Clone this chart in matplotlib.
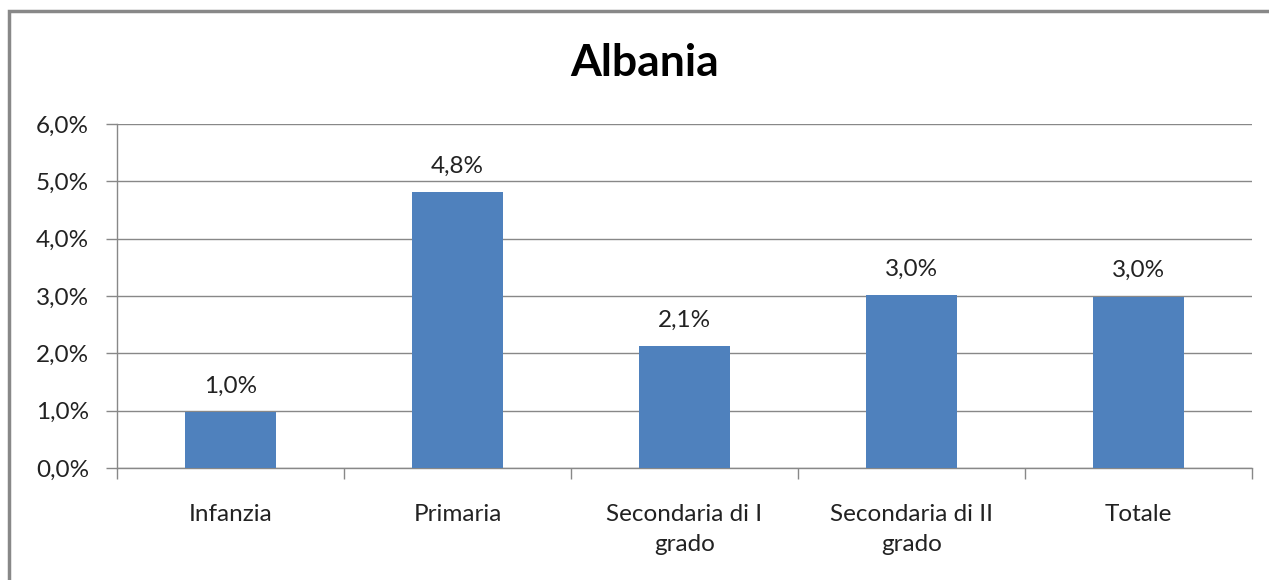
import matplotlib
matplotlib.use("Agg")
import matplotlib.pyplot as plt
from matplotlib.patches import Rectangle
from matplotlib.ticker import FuncFormatter, FixedLocator

categories = ["Infanzia", "Primaria", "Secondaria di I\ngrado", "Secondaria di II\ngrado", "Totale"]
values = [0.97, 4.81, 2.13, 3.02, 2.99]
title = "Albania"

plt.rcParams['font.family'] = ['Lato', 'DejaVu Sans']

fig = plt.figure(figsize=(12.69, 5.80), dpi=100)
ax = fig.add_axes([117/1269, 112/580, (1252-117)/1269, (468-124)/580])

grey = "#888888"
fs = 17.5
x = list(range(len(categories)))
bars = ax.bar(x, values, width=0.4, color="#4F81BD", zorder=3)
for xi, v in zip(x, values):
    ax.annotate(f"{v:.1f}%".replace(".", ","), (xi, v), xytext=(0, 11), textcoords="offset points",
                ha="center", va="bottom", fontsize=fs, color="#222222")

ax.set_xlim(-0.5, len(categories) - 0.5)
ax.set_ylim(0, 6)
ax.set_yticks([0, 1, 2, 3, 4, 5, 6])
ax.yaxis.set_major_formatter(FuncFormatter(lambda v, p: f"{v:.1f}%".replace(".", ",")))
ax.yaxis.grid(True, color=grey, linewidth=1, zorder=0)
ax.set_axisbelow(True)

ax.set_xticks(x)
ax.set_xticklabels(categories, fontsize=fs, color="#222222", linespacing=1.5)
ax.xaxis.set_minor_locator(FixedLocator([i - 0.5 for i in range(len(categories) + 1)]))
ax.tick_params(axis="x", which="major", length=0, pad=26)
ax.tick_params(axis="x", which="minor", length=8, color=grey, width=1)
ax.tick_params(axis="y", length=8, color=grey, width=1, labelsize=fs, labelcolor="#222222", pad=12)

for s in ["top", "right"]:
    ax.spines[s].set_visible(False)
for s in ["left", "bottom"]:
    ax.spines[s].set_color(grey)
    ax.spines[s].set_linewidth(1)

fig.text(645/1269, 1 - 63/580, title, ha="center", va="center", fontsize=32, fontweight="bold", color="black")

fig.patches.append(Rectangle((9/1269, -0.05), 1.1, 1 - 11/580 + 0.05, transform=fig.transFigure,
                             fill=False, edgecolor=grey, linewidth=2.5))

fig.savefig("out.png", dpi=100)
